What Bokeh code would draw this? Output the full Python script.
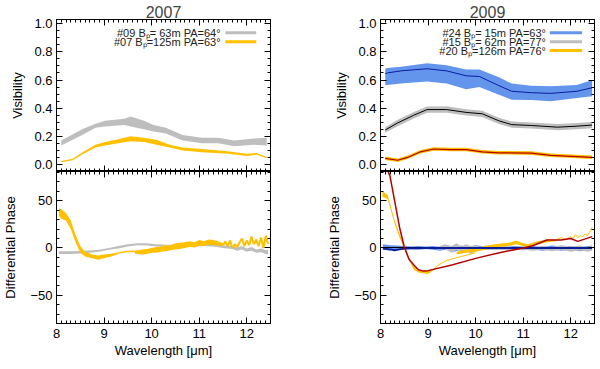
from bokeh.plotting import figure
from bokeh.models import LinearAxis, FixedTicker, Range1d
from bokeh.layouts import row, column
from bokeh.embed import file_html
from bokeh.resources import INLINE
from bokeh.core.properties import value

FONT = "Liberation Sans"
YELLOW = "#FFC000"
GRAY = "#BEBEBE"
BLUE = "#6495ED"
NAVY = "#0A1E9C"
RED = "#B40000"

# ---------------- ticks ----------------
x_ticks = [8, 9, 10, 11, 12]
x_tick_labels = ["8", "9", "10", "11", "12"]
vis_ticks = [0.0, 0.2, 0.4, 0.6, 0.8, 1.0]
vis_tick_labels = ["0.0", "0.2", "0.4", "0.6", "0.8", "1.0"]
ph_ticks = [-50, 0, 50]
ph_tick_labels = ["\u221250", "0", "50"]
x_minor = [round(8 + 0.1 * i, 1) for i in range(46)]
vis_minor = [round(0.05 * i, 2) for i in range(21)]
ph_minor = list(range(-80, 81, 10))

# ---------------- 2007 visibility ----------------
v07_09_x = [8.1, 8.54, 8.82, 9.02, 9.43, 9.56, 9.84, 10.04, 10.3, 10.65, 11.06, 11.4, 11.74, 12.15, 12.42]
v07_09_hi = [0.17, 0.25, 0.29, 0.31, 0.325, 0.34, 0.31, 0.28, 0.26, 0.21, 0.19, 0.19, 0.17, 0.185, 0.19]
v07_09_lo = [0.135, 0.21, 0.26, 0.27, 0.28, 0.27, 0.25, 0.235, 0.22, 0.17, 0.15, 0.15, 0.13, 0.14, 0.135]

v07_07_x = [8.1, 8.34, 8.54, 8.82, 9.02, 9.3, 9.56, 9.84, 10.1, 10.38, 10.65, 11.06, 11.6, 12.0, 12.2, 12.42]
v07_07_hi = [0.025, 0.04, 0.085, 0.14, 0.16, 0.18, 0.2, 0.19, 0.175, 0.14, 0.12, 0.11, 0.093, 0.076, 0.082, 0.055]
v07_07_lo = [0.015, 0.03, 0.07, 0.12, 0.135, 0.15, 0.165, 0.16, 0.14, 0.12, 0.1, 0.087, 0.076, 0.06, 0.07, 0.045]

# ---------------- 2007 differential phase ----------------
p07_09_x = [8.05, 8.3, 8.6, 8.9, 9.1, 9.3, 9.5, 9.7, 9.9, 10.1, 10.3, 10.5, 10.7, 10.9, 11.1, 11.3, 11.5,
            11.7, 11.8, 11.9, 12.0, 12.1, 12.2, 12.3, 12.4, 12.45]
p07_09_hi = [-3.5, -3.5, -3, -2, 0, 2, 4, 5, 5, 4, 3.5, 3.5, 3, 3.5, 4.5, 4, 3, 2, 0.5, 2, -0.5, 1, -1.5,
             -0.5, -2.5, -2]
p07_09_lo = [-6.5, -6.5, -5.5, -4, -2, -0.5, 1.5, 3, 2.5, 1.5, 1, 1, 1, 1.5, 2, 1.5, 0, -1, -3, -1.5, -4,
             -3, -5, -4.5, -6.5, -7]

p07_07a_x = [8.05, 8.1, 8.2, 8.3, 8.4, 8.5, 8.6, 8.75, 8.88, 9.0, 9.15, 9.3]
p07_07a_hi = [42, 41, 37, 29, 14, 2, -4, -7, -8, -7, -6, -4.5]
p07_07a_lo = [34, 31, 29, 20, 6, -5, -9, -11, -12.6, -11, -9, -6.5]
p07_07b_x = [9.3, 9.45, 9.6, 9.7]
p07_07b_y = [-5, -4, -3.5, -4]
p07_07c_x = [9.65, 9.8, 9.9, 10.0, 10.1, 10.2, 10.3, 10.4, 10.5, 10.6, 10.7, 10.8, 10.9, 11.0, 11.1,
             11.2, 11.3, 11.4, 11.5]
p07_07c_hi = [-3, -1.5, -1, 0, 1, 1.5, 3, 3, 5, 5.5, 6, 7, 6, 8.5, 7, 9, 8.5, 7, 5]
p07_07c_lo = [-6, -7, -6.5, -5, -5, -4, -3.5, -2.5, -1.5, -1, 0, 1, 0.5, 2.4, 2, 3.4, 3, 2.5, 2]
p07_07d_x = [11.5, 11.55, 11.6, 11.65, 11.7, 11.75, 11.8, 11.85, 11.9, 11.95, 12.0, 12.05, 12.1, 12.15,
             12.2, 12.25, 12.3, 12.35, 12.4, 12.45]
p07_07d_y = [3, 7, 2, 8, 0, 4, 1, 6, 10, 2, 8, 3, 12, 4, 9, 2, 11, 0, 13, 4]

# ---------------- 2009 visibility ----------------
v09_24_x = [8.1, 8.14, 8.43, 8.98, 9.39, 9.8, 10.08, 10.49, 10.76, 11.17, 11.58, 12.13, 12.45]
v09_24_c = [0.645, 0.65, 0.665, 0.68, 0.665, 0.63, 0.625, 0.56, 0.52, 0.51, 0.505, 0.52, 0.545]
v09_24_hi = [0.68, 0.685, 0.695, 0.72, 0.705, 0.675, 0.675, 0.62, 0.575, 0.56, 0.555, 0.565, 0.6]
v09_24_lo = [0.565, 0.565, 0.575, 0.59, 0.575, 0.535, 0.55, 0.495, 0.46, 0.458, 0.45, 0.472, 0.485]

v09_15_x = [8.1, 8.36, 8.7, 8.98, 9.39, 9.8, 10.14, 10.49, 10.76, 11.17, 11.72, 12.13, 12.45]
v09_15_c = [0.245, 0.295, 0.35, 0.39, 0.39, 0.37, 0.36, 0.31, 0.283, 0.277, 0.265, 0.272, 0.28]
v09_15_hi = [0.265, 0.318, 0.373, 0.412, 0.413, 0.392, 0.382, 0.332, 0.305, 0.299, 0.287, 0.294, 0.302]
v09_15_lo = [0.225, 0.272, 0.327, 0.368, 0.367, 0.348, 0.338, 0.288, 0.261, 0.255, 0.243, 0.25, 0.258]

v09_20_x = [8.1, 8.36, 8.57, 8.84, 9.12, 9.46, 9.8, 10.14, 10.49, 11.17, 11.58, 12.45]
v09_20_c = [0.043, 0.03, 0.05, 0.09, 0.11, 0.105, 0.105, 0.09, 0.083, 0.08, 0.065, 0.05]
v09_20_hi = [0.056, 0.043, 0.063, 0.103, 0.123, 0.118, 0.118, 0.103, 0.096, 0.093, 0.078, 0.063]
v09_20_lo = [0.031, 0.018, 0.038, 0.078, 0.098, 0.093, 0.093, 0.078, 0.071, 0.068, 0.053, 0.038]

# ---------------- 2009 differential phase ----------------
p09_24_x = [8.05, 8.2, 8.35, 8.5, 8.65, 8.8, 8.95, 9.1, 9.25, 9.4, 9.55, 9.7, 9.85, 10.0, 10.2, 10.4,
            10.6, 10.8, 11.0, 11.2, 11.4, 11.6, 11.8, 12.0, 12.2, 12.45]
p09_24_hi = [4, 3, 2.5, 2, 1.5, 2, 1.5, 2, 1, 3, 0.5, 2.5, 1, 3, 1.5, 2, 1, 2, 1.5, 2, 1, 2.5, 1.5, 2, 1, 2.5]
p09_24_lo = [-2, -2.5, -2, -1.5, -1, -1.5, -1, -2, -3, -1.5, -4, -1.5, -3.5, -1, -2, -1.5, -2, -1.5,
             -2.5, -1.5, -3, -1.5, -3, -2, -3.5, -2]

p09_15_x = [9.2, 9.35, 9.5, 9.6, 9.7, 9.8, 9.9, 10.0, 10.1, 10.2, 10.4, 10.6, 10.8, 11.0, 11.2, 11.4,
            11.6, 11.8, 12.0, 12.2, 12.35, 12.45]
p09_15_hi = [1, 4, 2, 5, 1.5, 4, 2, 3, 1, 2.5, 1.5, 2, 1, 1.5, 1, 2, 1, 3, 1.5, 2.5, 1, 2]
p09_15_lo = [-2, -1, -5, -2, -6, -2, -7, -3, -2, -1.5, -2, -1.5, -2.5, -2, -3, -2, -3.5, -2, -4, -2.5,
             -4, -3]

p09_20a_x = [8.04, 8.15, 8.3, 8.4, 8.5, 8.6, 8.7, 8.8, 9.0, 9.1]
p09_20a_hi = [60, 56, 29, 15, 2, -10, -19, -23, -24, -23]
p09_20a_lo = [54, 52, 25, 11, -1, -12.5, -23, -26, -27.5, -24]
p09_20b_x = [9.1, 9.25, 9.4, 9.55, 9.7, 9.85, 10.0]
p09_20b_y = [-23, -17, -13, -11, -9, -7, -5]
p09_20c_x = [9.6, 9.8, 10.0, 10.2, 10.4, 10.6, 10.75, 10.85, 11.0, 11.1, 11.3, 11.5, 11.7]
p09_20c_hi = [-4, -2, 0, 2, 4, 5, 6, 8, 5, 4, 7, 9, 9]
p09_20c_lo = [-7, -5, -4, -2, 0, 1.5, 2.5, 4, 2, 1, 4, 6, 7]
p09_20d_x = [11.7, 11.8, 11.9, 12.0, 12.05, 12.1, 12.15, 12.2, 12.25, 12.3, 12.35, 12.4, 12.45]
p09_20d_y = [9, 11, 9, 12, 10, 14, 11, 13, 12, 15, 13, 17, 22]

model20_x = [8.13, 8.2, 8.3, 8.4, 8.5, 8.6, 8.7, 8.8, 8.9, 9.0, 9.5, 10.0, 10.5, 11.0, 11.2, 11.5, 11.8,
             12.0, 12.15, 12.45]
model20_y = [85, 76, 49, 22, 1, -12, -18, -23, -24.5, -24, -18, -11, -5, 0, 2.4, 8.5, 8.5, 10, 7, 12]
model24_x = [8.05, 8.2, 8.3, 8.4, 8.5, 9.0, 10.0, 11.0, 12.0, 12.45]
model24_y = [-0.5, -1.5, -2.5, -1.5, -0.5, 0, 0, 0, 0, 0]
model15_x = [8.05, 9.0, 10.0, 11.0, 12.0, 12.45]
model15_y = [0.5, 0.5, 0.5, 0.5, 0.5, 0.5]

# ---------------- legends ----------------
leg07_text = ["#09 B\u209a= 63m PA=64\u00b0", "#07 B\u209a=125m PA=63\u00b0"]
leg07_color = [GRAY, YELLOW]
leg09_text = ["#24 B\u209a= 15m PA=63\u00b0", "#15 B\u209a= 62m PA=77\u00b0", "#20 B\u209a=126m PA=76\u00b0"]
leg09_color = [BLUE, GRAY, YELLOW]
leg_rows = [0.935, 0.872, 0.809]


def style_axis(ax, ticks, minor, labels=None):
    ax.ticker = FixedTicker(ticks=ticks, minor_ticks=minor)
    ax.major_tick_in = 6
    ax.major_tick_out = 0
    ax.minor_tick_in = 3
    ax.minor_tick_out = 0
    ax.axis_line_color = "black"
    ax.major_tick_line_color = "black"
    ax.minor_tick_line_color = "black"
    if labels is not None:
        ax.major_label_overrides = dict(zip(ticks, labels))
        ax.major_label_text_font = FONT
        ax.major_label_text_font_size = "13px"
        ax.major_label_text_color = "black"
        ax.major_label_standoff = 4
    else:
        ax.major_label_overrides = {t: "" for t in ticks}
        ax.major_label_text_font_size = "1px"
        ax.major_label_standoff = 0
    ax.axis_label_text_font = FONT
    ax.axis_label_text_font_size = "13px"
    ax.axis_label_text_font_style = "normal"
    ax.axis_label_text_color = "black"


def make_fig(kind, left_border, right_border, fw, title=None):
    yr = (-0.05, 1.03) if kind == "vis" else (-80, 81)
    p = figure(frame_width=fw, frame_height=152, x_range=Range1d(8, 12.5), y_range=Range1d(*yr),
               output_backend="svg", toolbar_location=None,
               min_border_left=left_border, min_border_right=right_border,
               min_border_top=(19 if title else 0), min_border_bottom=0, title=title)
    p.xgrid.visible = False
    p.ygrid.visible = False
    p.outline_line_color = "black"
    p.background_fill_color = "white"
    p.border_fill_color = "white"
    yt, ym, yl = (vis_ticks, vis_minor, vis_tick_labels) if kind == "vis" else (ph_ticks, ph_minor, ph_tick_labels)
    style_axis(p.yaxis[0], yt, ym, yl)
    p.yaxis[0].axis_label = "Visibility" if kind == "vis" else "Differential Phase"
    p.yaxis[0].axis_label_standoff = 6 if kind == "vis" else 9
    if kind == "vis":
        style_axis(p.xaxis[0], x_ticks, x_minor, None)
    else:
        style_axis(p.xaxis[0], x_ticks, x_minor, x_tick_labels)
        p.xaxis[0].axis_label = "Wavelength [\u03bcm]"
        p.xaxis[0].axis_label_standoff = 2
        p.xaxis[0].major_label_standoff = 5
    ax_r = LinearAxis()
    style_axis(ax_r, yt, ym, None)
    p.add_layout(ax_r, "right")
    ax_t = LinearAxis()
    style_axis(ax_t, x_ticks, x_minor, None)
    p.add_layout(ax_t, "above")
    if title is not None:
        p.title.text_font = FONT
        p.title.text_font_size = "16px"
        p.title.text_font_style = "normal"
        p.title.align = "center"
        p.title.standoff = 3
    return p


def legend(p, texts, colors, x_text, x0, x1):
    ys = leg_rows[:len(texts)]
    p.text(x=[x_text] * len(texts), y=ys, text=texts, text_align="right", text_baseline="middle",
           text_font=value(FONT), text_font_size=value("11px"), text_color="#222222")
    p.segment(x0=[x0] * len(texts), y0=ys, x1=[x1] * len(texts), y1=ys, line_color=colors, line_width=3)


# ---------- 2007 ----------
v07 = make_fig("vis", 44, 34, 214, "2007")
v07.varea(x=v07_09_x, y1=v07_09_lo, y2=v07_09_hi, fill_color=GRAY)
v07.varea(x=v07_07_x, y1=v07_07_lo, y2=v07_07_hi, fill_color=YELLOW)
legend(v07, leg07_text, leg07_color, 11.45, 11.55, 12.2)

ph07 = make_fig("ph", 44, 34, 214)
ph07.varea(x=p07_09_x, y1=p07_09_lo, y2=p07_09_hi, fill_color=GRAY)
ph07.varea(x=p07_07a_x, y1=p07_07a_lo, y2=p07_07a_hi, fill_color=YELLOW)
ph07.line(x=p07_07b_x, y=p07_07b_y, line_color=YELLOW, line_width=1.5)
ph07.varea(x=p07_07c_x, y1=p07_07c_lo, y2=p07_07c_hi, fill_color=YELLOW)
ph07.line(x=p07_07d_x, y=p07_07d_y, line_color=YELLOW, line_width=2)

# ---------- 2009 ----------
v09 = make_fig("vis", 76, 2, 214, "2009")
v09.varea(x=v09_24_x, y1=v09_24_lo, y2=v09_24_hi, fill_color=BLUE)
v09.line(x=v09_24_x, y=v09_24_c, line_color=NAVY, line_width=1)
v09.varea(x=v09_15_x, y1=v09_15_lo, y2=v09_15_hi, fill_color=GRAY)
v09.line(x=v09_15_x, y=v09_15_c, line_color="black", line_width=1)
v09.varea(x=v09_20_x, y1=v09_20_lo, y2=v09_20_hi, fill_color=YELLOW)
v09.line(x=v09_20_x, y=v09_20_c, line_color=RED, line_width=1.2)
legend(v09, leg09_text, leg09_color, 11.48, 11.56, 12.24)

ph09 = make_fig("ph", 76, 2, 214)
ph09.varea(x=p09_24_x, y1=p09_24_lo, y2=p09_24_hi, fill_color=BLUE)
ph09.varea(x=p09_15_x, y1=p09_15_lo, y2=p09_15_hi, fill_color=GRAY)
ph09.varea(x=p09_20a_x, y1=p09_20a_lo, y2=p09_20a_hi, fill_color=YELLOW)
ph09.line(x=p09_20b_x, y=p09_20b_y, line_color=YELLOW, line_width=1)
ph09.varea(x=p09_20c_x, y1=p09_20c_lo, y2=p09_20c_hi, fill_color=YELLOW)
ph09.line(x=p09_20d_x, y=p09_20d_y, line_color=YELLOW, line_width=1)
ph09.line(x=model15_x, y=model15_y, line_color="black", line_width=1)
ph09.line(x=model24_x, y=model24_y, line_color=NAVY, line_width=2)
ph09.line(x=model20_x, y=model20_y, line_color=RED, line_width=1.5)

layout = row(column(v07, ph07), column(v09, ph09))
open("out.html", "w").write(file_html(layout, INLINE))
